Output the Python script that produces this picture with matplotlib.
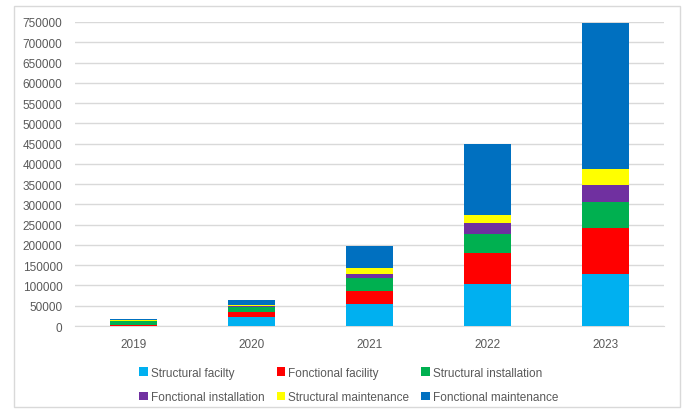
import matplotlib
matplotlib.use("Agg")
import matplotlib.pyplot as plt
from matplotlib.patches import Rectangle, Patch
import numpy as np

years = ["2019", "2020", "2021", "2022", "2023"]
series_names = ["Structural facilty", "Fonctional facility", "Structural installation",
                "Fonctional installation", "Structural maintenance", "Fonctional maintenance"]
structural_facility = [0, 22000, 54000, 104000, 128000]
fonctional_facility = [3000, 12500, 32000, 77000, 113000]
structural_installation = [10000, 12000, 33000, 45000, 66000]
fonctional_installation = [0, 2000, 9000, 27000, 40000]
structural_maintenance = [1000, 3000, 14000, 22000, 40000]
fonctional_maintenance = [3000, 12000, 55000, 173000, 360000]
yticks = list(range(0, 750001, 50000))

colors = ["#00B0F0", "#FF0000", "#00B050", "#7030A0", "#FFFF00", "#0070C0"]
series = [structural_facility, fonctional_facility, structural_installation,
          fonctional_installation, structural_maintenance, fonctional_maintenance]

plt.rcParams['font.family'] = ['Liberation Sans', 'DejaVu Sans']
fig = plt.figure(figsize=(6.91, 4.10), dpi=100)
ax = fig.add_axes([75/691, 1-327/410, (664-75)/691, (327-23)/410])

x = np.arange(len(years))
bottom = np.zeros(len(years))
for vals, c, name in zip(series, colors, series_names):
    ax.bar(x, vals, width=0.4, bottom=bottom, color=c, label=name, zorder=3)
    bottom += np.array(vals)

ax.set_xlim(-0.5, len(years) - 0.5)
ax.set_ylim(0, 750000)
ax.set_yticks(yticks)
ax.set_yticklabels([str(v) for v in yticks])
ax.set_xticks(x)
ax.set_xticklabels(years)
ax.grid(axis='y', color='#d9d9d9', linewidth=1, zorder=0)
for s in ['top', 'right', 'left']:
    ax.spines[s].set_visible(False)
ax.spines['bottom'].set_color('#d9d9d9')
ax.tick_params(axis='both', length=0, colors='#595959', labelsize=8.5)
ax.tick_params(axis='y', pad=9)
ax.tick_params(axis='x', pad=9)

order = [0, 3, 1, 4, 2, 5]
handles = [Patch(facecolor=colors[i], edgecolor='none') for i in order]
labels = [series_names[i] for i in order]
leg = fig.legend(handles, labels, ncol=3, loc='center', bbox_to_anchor=(0.505, 1-386/410),
                 frameon=False, fontsize=8.5, handlelength=0.7, handleheight=0.7,
                 handletextpad=0.3, columnspacing=1.0, labelspacing=1.1, labelcolor='#595959')

fig.patches.append(Rectangle((14/691, 1-408/410), (680-14)/691, (408-7)/410,
                             transform=fig.transFigure, fill=False, edgecolor='#d9d9d9', linewidth=1))

fig.savefig("out.png", dpi=100)
